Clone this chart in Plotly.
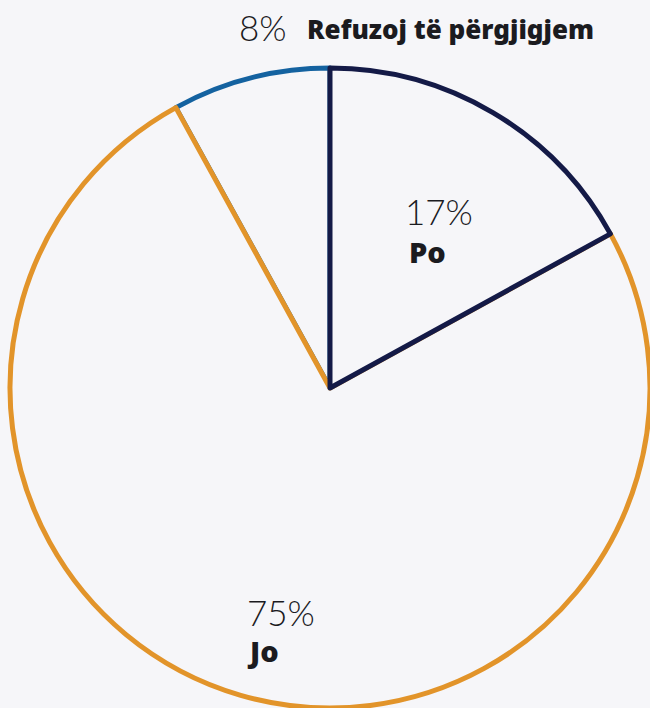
import plotly.graph_objects as go

# Survey answers (share of respondents, %)
labels = ["Refuzoj të përgjigjem", "Jo", "Po"]
values = [8, 75, 17]
outline_colors = ["#1462a0", "#e2942a", "#141a47"]

BG = "#f6f6f9"
TEXT = "#1b1b1f"
LIGHT_FONT = "Lato"
BOLD_FONT = "Noto Sans"

# Counterclockwise pies end their first slice at `rotation`; shift it so the
# first slice begins at 12 o'clock instead.
first_share = values[0] / sum(values) * 360

fig = go.Figure(
    go.Pie(
        labels=labels,
        values=values,
        sort=False,
        direction="counterclockwise",
        rotation=-first_share,
        marker=dict(colors=[BG] * len(values),
                    line=dict(color=outline_colors, width=5)),
        textinfo="none",
        hoverinfo="skip",
        showlegend=False,
        domain=dict(x=[10 / 650, 1.0], y=[0.0, 640 / 708]),
    )
)

# Label placement (pixels from top-left) for each answer: percent line, name line
pct_pos = {"Refuzoj të përgjigjem": (237, 27), "Jo": (245, 612), "Po": (403, 211)}
name_pos = {"Refuzoj të përgjigjem": (305, 29), "Jo": (245, 650), "Po": (407, 251)}

W, H = 650, 708
for lab, val in zip(labels, values):
    px, py = pct_pos[lab]
    fig.add_annotation(
        x=px / W, y=1 - py / H, xref="paper", yref="paper",
        xanchor="left", yanchor="middle", showarrow=False,
        text=f"{val}%",
        font=dict(family=LIGHT_FONT, size=35, color=TEXT, weight=300),
    )
    nx, ny = name_pos[lab]
    size = 26 if lab.startswith("Refuzoj") else 29
    fig.add_annotation(
        x=nx / W, y=1 - ny / H, xref="paper", yref="paper",
        xanchor="left", yanchor="middle", showarrow=False,
        text=lab,
        font=dict(family=BOLD_FONT, size=size, color=TEXT, weight=900),
    )

fig.update_layout(
    width=W, height=H,
    margin=dict(l=0, r=0, t=0, b=0),
    paper_bgcolor=BG, plot_bgcolor=BG,
)

fig.write_html("out.html")
